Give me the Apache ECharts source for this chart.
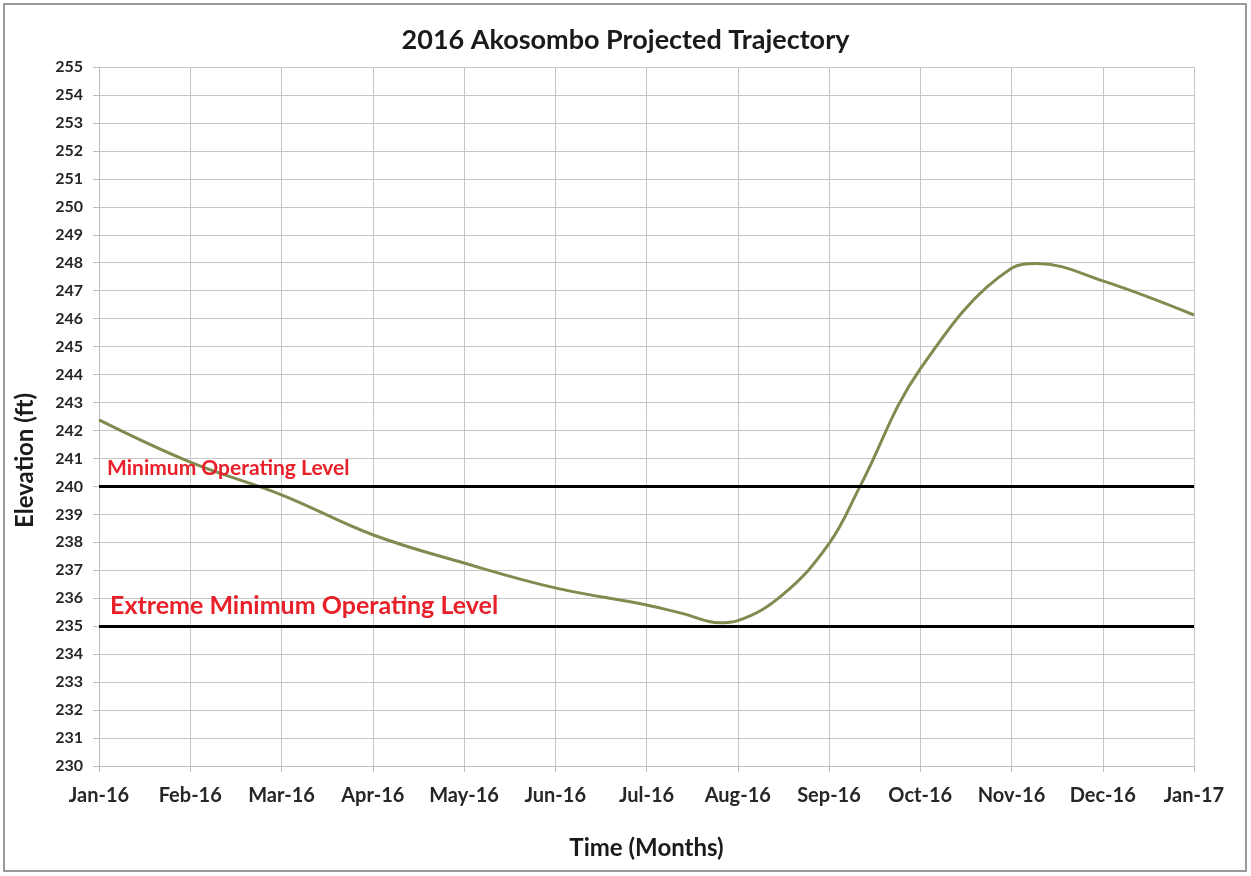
<!DOCTYPE html>
<html>
<head>
<meta charset="utf-8">
<script src="https://cdn.jsdelivr.net/npm/echarts@6/dist/echarts.min.js"></script>
<style>
html,body{margin:0;padding:0;background:#fff;}
#c{width:1251px;height:876px;}
</style>
</head>
<body>
<div id="c"></div>
<script>
const months = ['Jan-16','Feb-16','Mar-16','Apr-16','May-16','Jun-16','Jul-16','Aug-16','Sep-16','Oct-16','Nov-16','Dec-16','Jan-17'];
// position in months from Jan-16
const trajX = [0,1,2,3,4,5,6,6.4,6.8,7,7.5,8,8.34,9,10,10.27,11,12];
const trajY = [242.38,240.87,239.7,238.27,237.26,236.37,235.76,235.45,235.12,235.2,236.15,237.95,240.0,244.2,247.8,247.97,247.35,246.13];
const refLevels = [240, 235];
const refNames = ['Minimum Operating Level', 'Extreme Minimum Operating Level'];
const yMin = 230, yMax = 255;

const FONT = 'Lato, "Open Sans", sans-serif';
const chart = echarts.init(document.getElementById('c'), null, {renderer:'canvas'});

const traj = trajX.map((x,i)=>[x, trajY[i]]);

chart.setOption({
  animation:false,
  backgroundColor:'#fff',
  title:{
    text:'2016 Akosombo Projected Trajectory',
    left:'center', top:22,
    textStyle:{fontFamily:FONT, fontSize:27, fontWeight:'bold', color:'#1a1a1a'}
  },
  graphic:[{
    type:'rect', shape:{x:4,y:4,width:1242,height:867},
    style:{fill:'none', stroke:'#9a9a9a', lineWidth:2}, silent:true
  },{
    type:'text', left:13, top:393, rotation:Math.PI/2,
    style:{text:'Elevation (ft)', font:'bold 24px '+FONT, fill:'#1a1a1a'}
  }],
  grid:{left:99, right:57, top:67, bottom:110, containLabel:false},
  xAxis:{
    type:'value', min:0, max:12, interval:1,
    name:'Time (Months)', nameLocation:'middle', nameGap:70,
    nameTextStyle:{fontFamily:FONT, fontSize:24, fontWeight:'bold', color:'#1a1a1a'},
    axisLine:{show:true, lineStyle:{color:'#bdbdbd'}},
    axisTick:{show:true, length:6, lineStyle:{color:'#bdbdbd'}},
    splitLine:{show:true, lineStyle:{color:'#c6c6c6', width:1}},
    axisLabel:{formatter:(v)=>months[Math.round(v)], margin:20,
      fontFamily:FONT, fontSize:20, fontWeight:'bold', color:'#262626'}
  },
  yAxis:{
    type:'value', min:yMin, max:yMax, interval:1,
    axisLine:{show:true, lineStyle:{color:'#bdbdbd'}},
    axisTick:{show:true, length:6, lineStyle:{color:'#bdbdbd'}},
    splitLine:{show:true, lineStyle:{color:'#c6c6c6', width:1}},
    axisLabel:{margin:16, fontFamily:FONT, fontSize:16, fontWeight:'bold', color:'#262626'}
  },
  series:[{
    type:'line', data:traj, smooth:0.4, showSymbol:false, symbol:'none',
    lineStyle:{color:'#838a50', width:3},
    z:3
  },{
    type:'line', data:[], z:4,
    markLine:{
      silent:true, symbol:['none','none'],
      lineStyle:{color:'#000', width:3, type:'solid'},
      data:[
        {yAxis:refLevels[0], name:refNames[0],
         label:{show:true, position:'insideStartTop', formatter:'{b}', distance:[8,8],
           fontFamily:FONT, fontSize:21, fontWeight:'bold', color:'#e8202a'}},
        {yAxis:refLevels[1], name:refNames[1],
         label:{show:true, position:'insideStartTop', formatter:'{b}', distance:[11,8],
           fontFamily:FONT, fontSize:25, fontWeight:'bold', color:'#e8202a'}}
      ]
    }
  }]
});
</script>
</body>
</html>
